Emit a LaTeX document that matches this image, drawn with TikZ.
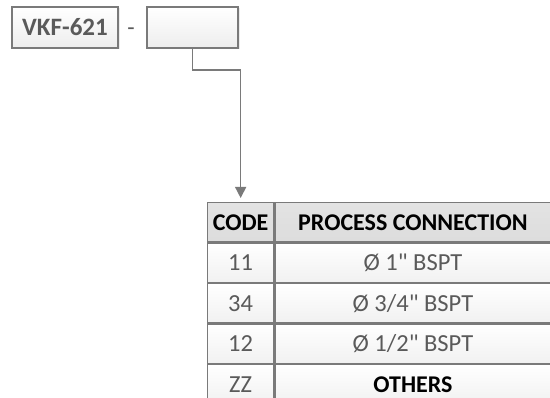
\documentclass[tikz,border=0pt]{standalone}
\usepackage{fontspec}
\setmainfont{Carlito}[Ligatures=TeXOff]
\usetikzlibrary{positioning,calc,shadows,arrows.meta}
\definecolor{linegray}{HTML}{7A7A7A}
\definecolor{textgray}{HTML}{5A5A5A}
\begin{document}
\begin{tikzpicture}[x=1pt,y=-1pt,>={Triangle[width=11pt,length=11pt]}]
            \tikzstyle{box}=[draw=linegray, line width=1.3pt, top color=white,
            bottom color=gray!14, minimum width=91pt, minimum height=41pt,
            inner sep=0pt, text=textgray,
            drop shadow={opacity=0.15, shadow xshift=1.5pt, shadow yshift=-1.5pt},
            font=\fontsize{25}{28}\selectfont\bfseries]
            \tikzstyle{cell}=[draw=linegray, line width=1.3pt, top color=white,
            bottom color=gray!11, inner sep=0pt, minimum height=39.2pt,
            text=textgray, font=\fontsize{24.5}{27}\selectfont]
            \tikzstyle{codecell}=[cell, minimum width=66pt]
            \tikzstyle{conncell}=[cell, minimum width=276pt]
            \tikzstyle{head}=[top color=gray!22, bottom color=gray!27, text=black,
            font=\fontsize{24}{27}\selectfont\bfseries]
            \tikzstyle{conn}=[->, draw=linegray, line width=1.4pt]
            \useasboundingbox (0,0) rectangle (550,398);
            % [model] - [option]
            %               |_______
            %                       |
            %                  [code | connection]
            \node[box, minimum width=106pt] (model) at (65,27.5) {VKF-621};
            \node[text=textgray, anchor=base, font=\fontsize{24}{27}\selectfont] (dash) at (131,36) {-};
            \node[box] (option) at (192.5,27.5) {};
            \node[codecell, head, anchor=north west] (hcode) at (207,202) {CODE};
            \node[conncell, head, right=0pt of hcode] (hconn) {PROCESS CONNECTION};
            \node[codecell, below=0pt of hcode] (c11) {11};
            \node[conncell, right=0pt of c11] (p11) {Ø 1" BSPT};
            \node[codecell, below=0pt of c11] (c34) {34};
            \node[conncell, right=0pt of c34] (p34) {Ø 3/4" BSPT};
            \node[codecell, below=0pt of c34] (c12) {12};
            \node[conncell, right=0pt of c12] (p12) {Ø 1/2" BSPT};
            \node[codecell, below=0pt of c12] (czz) {ZZ};
            \node[conncell, right=0pt of czz, text=black, font=\fontsize{24}{27}\selectfont\bfseries] (pzz) {OTHERS};
            \coordinate (turn) at (215,70);
            \draw[conn, shorten >=4pt] (option.south) |- (turn) -| (hcode.north);
\end{tikzpicture}
\end{document}
